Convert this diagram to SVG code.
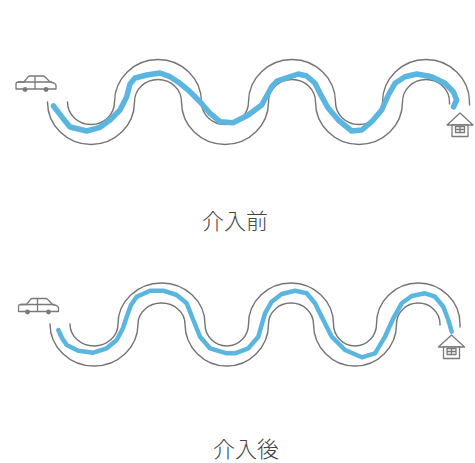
<svg xmlns="http://www.w3.org/2000/svg" width="475" height="463" viewBox="0 0 475 463">
  <style>
    .road { fill: none; stroke: #747474; stroke-width: 1.4; stroke-linecap: round; }
    .route { fill: none; stroke: #5ab6e0; stroke-linecap: round; stroke-linejoin: round; }
    .icon { fill: #fff; stroke: #7a7a7a; stroke-width: 1.3; stroke-linejoin: round; }
    .wheel { fill: #7a7a7a; }
    .caption { font-family: "Noto Sans CJK JP", "Noto Sans CJK SC", sans-serif; font-size: 22px; font-weight: 300; fill: #444; text-anchor: middle; }
  </style>
  <defs>
    <g id="car-icon">
      <path class="icon" d="M0,13 L0,8 Q0,6 2.5,6 L8,6 L12,0.8 Q12.8,0 14,0 L27,0 Q28.2,0 29,0.8 L34,6 L38,7 Q40.5,7.8 40,11 L40,13 Z"/>
      <path class="icon" d="M2,6 L36,6 M19,0 L19,13"/>
      <circle class="wheel" cx="9" cy="13.5" r="2.4"/>
      <circle class="wheel" cx="30" cy="13.5" r="2.4"/>
    </g>
    <g id="house-icon">
      <path class="icon" d="M-13,12 L0,0 L13,12 Z"/>
      <rect class="icon" x="-8" y="12" width="16" height="11.5"/>
      <rect class="icon" x="-4.5" y="13.5" width="9" height="6"/>
      <path class="icon" d="M0,13.5 L0,19.5 M-4.5,16.5 L4.5,16.5"/>
    </g>
  </defs>
  <rect width="475" height="463" fill="#ffffff"/>

  <!-- upper panel: winding road before the change -->
  <g id="road-before">
    <path class="road" d="M67.5,102 A23.5,22.5 0 0 0 114.5,102 A43.5,42.5 0 0 1 201.5,102 A23.5,22.5 0 0 0 248.5,102 A43.5,42.5 0 0 1 335.5,102 A23.5,22.5 0 0 0 382.5,102 A43.5,42.5 0 0 1 469.5,102 L469.5,105"/>
    <path class="road" d="M47.5,102 A43.5,42.5 0 0 0 134.5,102 A23.5,22.5 0 0 1 181.5,102 A43.5,42.5 0 0 0 268.5,102 A23.5,22.5 0 0 1 315.5,102 A43.5,42.5 0 0 0 402.5,102 A23.5,22.5 0 0 1 449.5,102 L449.5,104"/>
  </g>
  <g id="car-before"><use href="#car-icon" x="16" y="76"/></g>
  <g id="house-before"><use href="#house-icon" x="460" y="113"/></g>

  <!-- lower panel: the same road after the change -->
  <g id="road-after">
    <path class="road" d="M70,324 A24,22 0 0 0 118,324 A43.5,41 0 0 1 205,324 A21.75,22 0 0 0 248.5,324 A42.5,41 0 0 1 333.5,324 A21.5,22 0 0 0 376.5,324 A41.75,41 0 0 1 460,324 L460,327"/>
    <path class="road" d="M50,324 A44,42 0 0 0 138,324 A23.5,21 0 0 1 185,324 A41.75,42 0 0 0 268.5,324 A22.5,21 0 0 1 313.5,324 A41.5,42 0 0 0 396.5,324 A21.75,21 0 0 1 440,324 L440,325"/>
  </g>
  <g id="car-after"><use href="#car-icon" x="18.5" y="298.5"/></g>
  <g id="house-after"><use href="#house-icon" x="451.5" y="335"/></g>

  <!-- driven routes -->
  <g id="routes">
    <path class="route" stroke-width="5.5" d="M53.5,106 L61.7,116.7 L70,127 L86.7,131 L100,127.3 L110,120 L120,110 L126.7,96.7 L130,84 L135,78 L146.7,75 L160,73 L170,76.7 L180,83.3 L190,91.7 L200,101.7 L210,113.3 L220,121.7 L233,122.7 L248.3,115 L261.7,105 L271.7,86.7 L277,81 L285,78.3 L298.3,74 L306.7,76 L315,83.3 L320,93.3 L328.3,108.3 L338.3,120 L351.7,131 L361.7,130 L371.7,121.7 L381.7,110 L388.3,95 L395,83.3 L405,76.7 L416.7,74 L431.7,76.7 L445,83.3 L453.3,91.7 L456.7,100 L453.5,107"/>
    <path class="route" stroke-width="4.5" stroke="#6bb8e0" d="M58.3,330 L62,338 L66.7,345 L78.3,350.7 L93.3,352.7 L106.7,348.3 L116.7,340 L123,328 L128,313 L131,305 L136.7,296.7 L150,290.7 L163.3,290.7 L176.7,295 L186.7,303.3 L193.3,320 L200,336.7 L210,348.3 L226.7,353.3 L235,353.3 L248.3,348.3 L258.3,336.7 L265,313.3 L271.7,301.7 L281.7,294 L295,290.7 L306.7,293.3 L315,303.3 L323.3,320 L331.7,336.7 L345,350 L361.7,357.3 L375,353.3 L385,336.7 L393.3,318.3 L401.7,303.3 L411.7,296 L425,293.3 L435,296.7 L443.3,306.7 L448.3,320 L451.7,331.7"/>
  </g>

  <text id="label-before" class="caption" x="235" y="229">介入前</text>
  <text id="label-after" class="caption" x="246" y="457">介入後</text>
</svg>
